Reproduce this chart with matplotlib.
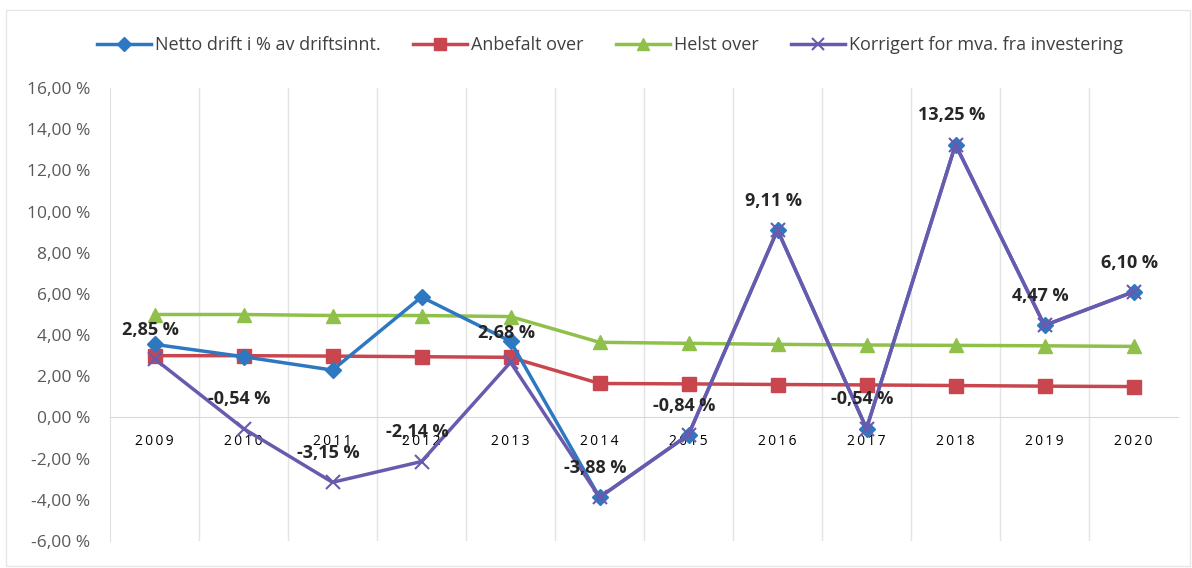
import matplotlib
matplotlib.use("Agg")
import matplotlib.pyplot as plt
from matplotlib.patches import Rectangle
from matplotlib.ticker import FixedLocator

years = ["2009", "2010", "2011", "2012", "2013", "2014", "2015", "2016", "2017", "2018", "2019", "2020"]
netto = [3.55, 2.95, 2.30, 5.85, 3.70, -3.88, -0.84, 9.11, -0.54, 13.25, 4.47, 6.10]
anbefalt = [3.00, 3.00, 2.98, 2.95, 2.92, 1.65, 1.63, 1.60, 1.58, 1.55, 1.52, 1.50]
helst = [5.00, 5.00, 4.95, 4.95, 4.90, 3.65, 3.60, 3.55, 3.52, 3.50, 3.48, 3.45]
korrigert = [2.85, -0.54, -3.15, -2.14, 2.68, -3.88, -0.84, 9.11, -0.54, 13.25, 4.47, 6.10]
korr_labels = ["2,85 %", "-0,54 %", "-3,15 %", "-2,14 %", "2,68 %", "-3,88 %", "-0,84 %",
               "9,11 %", "-0,54 %", "13,25 %", "4,47 %", "6,10 %"]
series_names = ["Netto drift i % av driftsinnt.", "Anbefalt over", "Helst over",
                "Korrigert for mva. fra investering"]
yticks = [-6, -4, -2, 0, 2, 4, 6, 8, 10, 12, 14, 16]

plt.rcParams['font.family'] = ['Open Sans', 'DejaVu Sans']

fig = plt.figure(figsize=(11.92, 5.68), dpi=100)
fig.patches.append(Rectangle((6/1192, 2/568), 1184/1192, 556/568, transform=fig.transFigure,
                             fill=False, edgecolor="#e6e6e6", linewidth=1.0))
ax = fig.add_axes([110/1192, 1 - 541/568, 1068/1192, (541 - 88)/568])

x = list(range(len(years)))
c_blue = "#2E78C2"
c_red = "#C9464F"
c_green = "#8EC04A"
c_purple = "#6A5AAE"

ax.plot(x, netto, color=c_blue, lw=2.5, marker="D", ms=8, label=series_names[0], zorder=3)
ax.plot(x, anbefalt, color=c_red, lw=2.5, marker="s", ms=10, label=series_names[1], zorder=2)
ax.plot(x, helst, color=c_green, lw=2.5, marker="^", ms=10, label=series_names[2], zorder=2)
ax.plot(x, korrigert, color=c_purple, lw=2.5, marker="x", ms=10, mew=1.5,
        label=series_names[3], zorder=4)

for xi, v, lab in zip(x, korrigert, korr_labels):
    ax.annotate(lab, (xi, v), xytext=(-3, 21), textcoords="offset points",
                ha="center", va="center", fontsize=13, fontweight="bold",
                color="#262626", zorder=5)

ax.set_xlim(-0.5, len(years) - 0.5)
ax.set_ylim(-6, 16)
ax.set_yticks(yticks)
ax.set_yticklabels([f"{v:.2f}".replace(".", ",") + " %" for v in yticks],
                   fontsize=12.5, color="#595959")
ax.set_xticks(x)
ax.set_xticklabels(["\u2009".join(y) for y in years], fontsize=12, color="#7f7f7f")
ax.xaxis.set_minor_locator(FixedLocator([i + 0.5 for i in x[:-1]]))
ax.grid(True, which="minor", axis="x", color="#e3e3e3", lw=1.0)
ax.tick_params(axis="x", which="both", length=0, pad=12)
ax.tick_params(axis="y", length=0, pad=14)

for s in ["top", "right"]:
    ax.spines[s].set_visible(False)
ax.spines["bottom"].set_position(("data", 0))
ax.spines["bottom"].set_color("#d9d9d9")
ax.spines["left"].set_color("#e0e0e0")

leg = fig.legend(loc="center", bbox_to_anchor=(610/1192, 1 - 45/568), ncol=4, frameon=False,
                 fontsize=13, handlelength=3.0, columnspacing=1.8, handletextpad=0.2,
                 markerscale=0.85)
for t in leg.get_texts():
    t.set_color("#404040")

fig.savefig("out.png", dpi=100)
